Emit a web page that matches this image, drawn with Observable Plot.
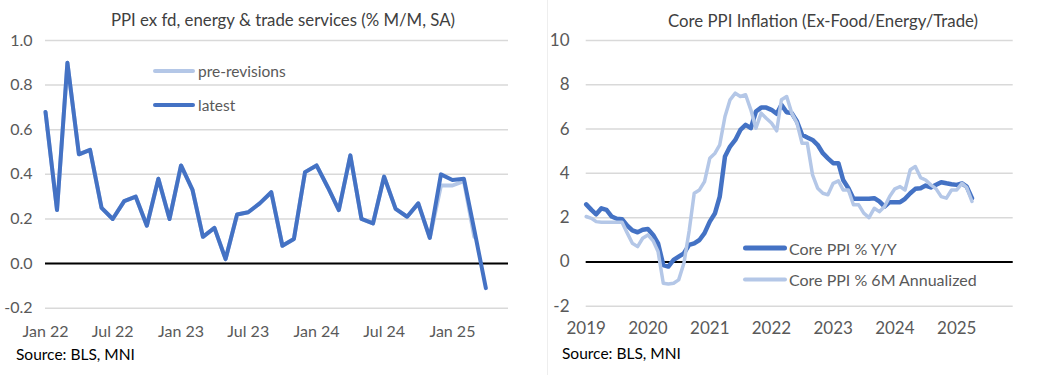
<!DOCTYPE html>
<html>
<head>
<meta charset="utf-8">
<script src="https://cdn.jsdelivr.net/npm/d3@7"></script>
<script src="https://cdn.jsdelivr.net/npm/@observablehq/plot@0.6"></script>
<style>
  html, body { margin: 0; padding: 0; background: #fff; }
  #wrap { position: relative; width: 1041px; height: 375px; overflow: hidden; font-family: Lato, "Open Sans", sans-serif; }
  .abs { position: absolute; }
  .title { color: #404040; font-size: 16.8px; white-space: nowrap; transform: translate(-50%, -50%); }
  .src { color: #000; font-size: 15.5px; white-space: nowrap; transform: translateY(-50%); }
  .leg { color: #595959; white-space: nowrap; transform: translateY(-50%); display: flex; align-items: center; }
  .sw { display: inline-block; border-radius: 3px; }
</style>
</head>
<body>
<div id="wrap">
  <div class="abs" style="left:547px;top:0;width:1px;height:375px;background:#eeeeee"></div>
  <div id="left" class="abs" style="left:0;top:0"></div>
  <div id="right" class="abs" style="left:520px;top:0"></div>
  <div class="abs title" style="left:283px;top:19px">PPI ex fd, energy &amp; trade services (% M/M, SA)</div>
  <div class="abs title" style="left:823px;top:20px">Core PPI Inflation (Ex-Food/Energy/Trade)</div>
  <div class="abs src" style="left:16px;top:354px">Source: BLS, MNI</div>
  <div class="abs src" style="left:562px;top:353px">Source: BLS, MNI</div>
  <div class="abs leg" style="left:153px;top:71px;font-size:15.5px"><span class="sw" style="width:42px;height:4px;background:#b4c7e7;margin-right:3px"></span>pre-revisions</div>
  <div class="abs leg" style="left:153px;top:105px;font-size:15.5px"><span class="sw" style="width:42px;height:4px;background:#4472c4;margin-right:3px"></span>latest</div>
  <div class="abs leg" style="left:743px;top:248px;font-size:16px"><span class="sw" style="width:44px;height:5px;background:#4472c4;margin-right:2px"></span>Core PPI % Y/Y</div>
  <div class="abs leg" style="left:743px;top:279px;font-size:16px"><span class="sw" style="width:44px;height:4px;background:#b4c7e7;margin-right:2px"></span>Core PPI % 6M Annualized</div>
</div>
<script>
// ---------- Left panel data: PPI ex food, energy & trade services, % M/M SA ----------
const mmStart = "2022-01-01";
const mmLatest = [
  0.68, 0.24, 0.90, 0.49, 0.51, 0.25, 0.20, 0.28, 0.30, 0.17, 0.38, 0.20,
  0.44, 0.33, 0.12, 0.16, 0.02, 0.22, 0.23, 0.27, 0.32, 0.08, 0.11, 0.41,
  0.44, 0.34, 0.24, 0.485, 0.20, 0.18, 0.39, 0.245, 0.21, 0.27, 0.115, 0.40,
  0.375, 0.38, 0.15, -0.11
];
const mmPreRevisions = [
  0.68, 0.24, 0.90, 0.49, 0.51, 0.25, 0.20, 0.28, 0.30, 0.17, 0.38, 0.20,
  0.44, 0.33, 0.12, 0.16, 0.02, 0.22, 0.23, 0.27, 0.32, 0.08, 0.11, 0.41,
  0.44, 0.34, 0.24, 0.485, 0.20, 0.18, 0.39, 0.245, 0.21, 0.27, 0.115, 0.35,
  0.35, 0.37, 0.12
];
const leftYTicks = [-0.2, 0.0, 0.2, 0.4, 0.6, 0.8, 1.0];
const leftXTickDates = ["2022-01-01","2022-07-01","2023-01-01","2023-07-01","2024-01-01","2024-07-01","2025-01-01"];
const leftXTickLabels = ["Jan 22","Jul 22","Jan 23","Jul 23","Jan 24","Jul 24","Jan 25"];
const leftXDomain = ["2022-01-01", "2025-06-01"];

// ---------- Right panel data: Core PPI inflation ----------
const coreStart = "2019-01-01";
const coreYoY = [
  2.6, 2.35, 2.15, 2.42, 2.35, 2.05, 1.95, 1.93, 1.64, 1.42, 1.34, 1.45,
  1.49, 1.22, 0.84, -0.14, -0.21, 0.09, 0.24, 0.39, 0.77, 0.84, 0.99, 1.3,
  1.82, 2.2, 2.95, 4.76, 5.21, 5.51, 5.96, 6.19, 6.04, 6.79, 6.97, 6.97,
  6.87, 6.69, 7.09, 6.76, 6.72, 6.34, 5.74, 5.62, 5.51, 5.29, 4.91, 4.68,
  4.46, 4.46, 3.70, 3.33, 2.85, 2.85, 2.85, 2.85, 2.88, 2.73, 2.5, 2.7,
  2.7, 2.7, 2.85, 3.1, 3.3, 3.33, 3.45, 3.36, 3.48, 3.6, 3.55, 3.51,
  3.48, 3.55, 3.4, 2.88
];
const core6mAnn = [
  2.05, 1.97, 1.82, 1.79, 1.79, 1.79, 1.79, 1.79, 1.3, 0.84, 0.69, 1.07,
  1.22, 0.95, 0.47, -0.96, -1.0, -0.96, -0.81, -0.06, 1.4, 3.1, 3.25, 3.63,
  4.68, 4.91, 5.29, 6.57, 7.32, 7.62, 7.47, 7.55, 6.87, 6.04, 6.72, 6.49,
  6.27, 5.92, 7.32, 7.47, 6.72, 6.27, 5.36, 5.36, 3.93, 3.33, 3.1, 3.03,
  3.55, 3.66, 3.25, 3.25, 2.58, 2.58, 2.2, 2.0, 2.42, 2.27, 2.5, 2.95,
  3.3, 3.4, 3.25, 4.16, 4.31, 3.81, 3.7, 3.48, 3.3, 2.95, 2.88, 3.25,
  3.25, 3.55, 3.36, 2.73
];
const rightYTicks = [-2, 0, 2, 4, 6, 8, 10];
const rightXTickDates = ["2019-01-01","2020-01-01","2021-01-01","2022-01-01","2023-01-01","2024-01-01","2025-01-01"];
const rightXTickLabels = ["2019","2020","2021","2022","2023","2024","2025"];
const rightXDomain = ["2019-01-01", "2025-12-01"];

// ---------- helpers ----------
const parse = s => new Date(s + "T00:00:00Z");
const monthly = (start, values) => values.map((v, i) => ({date: d3.utcMonth.offset(parse(start), i), value: v}));
const labelFor = (dates, labels) => d => labels[dates.findIndex(s => +parse(s) === +d)];

const DARK = "#4472c4", LIGHT = "#b4c7e7", GRID = "#d9d9d9", TXT = "#595959";

// ---------- Left chart ----------
const lx = leftXTickDates.map(parse);
const left = Plot.plot({
  width: 520, height: 340,
  marginLeft: 45, marginRight: 12, marginTop: 40, marginBottom: 32.3,
  style: {fontFamily: "Lato, sans-serif", fontSize: "16px", color: TXT, background: "transparent", overflow: "visible"},
  x: {type: "utc", domain: leftXDomain.map(parse)},
  y: {domain: [-0.2, 1.0]},
  marks: [
    Plot.gridY(leftYTicks, {stroke: GRID, strokeOpacity: 1, strokeWidth: 1.5}),
    Plot.axisY(leftYTicks, {tickSize: 0, tickPadding: 13, tickFormat: d => d.toFixed(1), fill: TXT, fontSize: 16, label: null}),
    Plot.axisX(lx, {tickSize: 0, tickPadding: 17, tickFormat: labelFor(leftXTickDates, leftXTickLabels), fill: TXT, fontSize: 16, label: null}),
    Plot.ruleY([0], {stroke: "#000", strokeWidth: 2}),
    Plot.line(monthly(mmStart, mmPreRevisions), {x: "date", y: "value", stroke: LIGHT, strokeWidth: 4, strokeLinejoin: "round", strokeLinecap: "round"}),
    Plot.line(monthly(mmStart, mmLatest), {x: "date", y: "value", stroke: DARK, strokeWidth: 4, strokeLinejoin: "round", strokeLinecap: "round"})
  ]
});
document.getElementById("left").appendChild(left);

// ---------- Right chart ----------
const rx = rightXTickDates.map(parse);
const right = Plot.plot({
  width: 521, height: 340,
  marginLeft: 65.7, marginRight: 28.3, marginTop: 40, marginBottom: 34.3,
  style: {fontFamily: "Lato, sans-serif", fontSize: "17px", color: TXT, background: "transparent", overflow: "visible"},
  x: {type: "utc", domain: rightXDomain.map(parse)},
  y: {domain: [-2, 10]},
  marks: [
    Plot.gridY(rightYTicks, {stroke: GRID, strokeOpacity: 1, strokeWidth: 1.5}),
    Plot.axisY(rightYTicks, {tickSize: 0, tickPadding: 16.7, tickFormat: d => String(d), fill: TXT, fontSize: 17, label: null}),
    Plot.axisX(rx, {tickSize: 0, tickPadding: 16, tickFormat: labelFor(rightXTickDates, rightXTickLabels), fill: TXT, fontSize: 17, label: null}),
    Plot.ruleY([0], {stroke: "#000", strokeWidth: 2}),
    Plot.line(monthly(coreStart, coreYoY), {x: "date", y: "value", stroke: DARK, strokeWidth: 4.5, strokeLinejoin: "round", strokeLinecap: "round"}),
    Plot.line(monthly(coreStart, core6mAnn), {x: "date", y: "value", stroke: LIGHT, strokeWidth: 3.5, strokeLinejoin: "round", strokeLinecap: "round"})
  ]
});
document.getElementById("right").appendChild(right);
</script>
</body>
</html>
